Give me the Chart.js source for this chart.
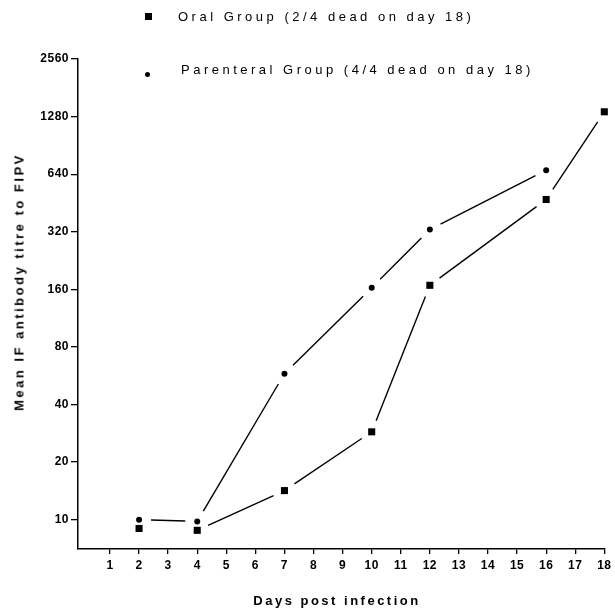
<!DOCTYPE html>
<html>
<head>
<meta charset="utf-8">
<script src="https://cdn.jsdelivr.net/npm/chart.js@4"></script>
<style>
  body { margin: 0; background: #fff; }
  #wrap { position: relative; width: 615px; height: 610px; font-family: "Liberation Sans", Arial, sans-serif; color: #000; }
  canvas { position: absolute; left: 0; top: 0; }
  .leg { position: absolute; font-size: 13px; letter-spacing: 3.5px; white-space: nowrap; transform: translateY(-50%); }
  .mk { position: absolute; background: #000; }
  .titulo { position: absolute; font-size: 13px; font-weight: bold; letter-spacing: 2.5px; white-space: nowrap; }
</style>
</head>
<body>
<div id="wrap">
  <canvas id="grafico" width="615" height="610"></canvas>
  <div class="mk" style="left:145px; top:13px; width:7px; height:7px;"></div>
  <div class="leg" id="leg-oral" style="left:178px; top:16px;"></div>
  <div class="mk" style="left:145px; top:72px; width:5px; height:5px; border-radius:50%;"></div>
  <div class="leg" id="leg-parenteral" style="left:181px; top:69px;"></div>
  <div class="titulo" id="titulo-y" style="left:19px; top:282px; transform: translate(-50%,-50%) rotate(-90deg);"></div>
  <div class="titulo" id="titulo-x" style="left:337px; top:600px; transform: translate(-50%,-50%);"></div>
</div>
<script>
// dados
const diasOral = [2, 4, 7, 10, 12, 16, 18];
const tituloOral = [9.0, 8.8, 14.2, 28.8, 168, 472, 1356];
const diasParenteral = [2, 4, 7, 10, 12, 16];
const tituloParenteral = [10, 9.8, 58, 163, 329, 672];

const ticksX = [1, 2, 3, 4, 5, 6, 7, 8, 9, 10, 11, 12, 13, 14, 15, 16, 17, 18];
const ticksY = [10, 20, 40, 80, 160, 320, 640, 1280, 2560];

const legendaOral = 'Oral Group (2/4 dead on day 18)';
const legendaParenteral = 'Parenteral Group (4/4 dead on day 18)';
const eixoY = 'Mean IF antibody titre to FIPV';
const eixoX = 'Days post infection';

document.getElementById('leg-oral').textContent = legendaOral;
document.getElementById('leg-parenteral').textContent = legendaParenteral;
document.getElementById('titulo-y').textContent = eixoY;
document.getElementById('titulo-x').textContent = eixoX;

// linhas entre os pontos, com um espaço antes de cada marcador
const linhasComFolga = {
    id: 'linhasComFolga',
    afterDatasetsDraw(chart) {
        const ctx = chart.ctx;
        const folga = 12;
        chart.data.datasets.forEach((ds, i) => {
            const pts = chart.getDatasetMeta(i).data;
            ctx.save();
            ctx.strokeStyle = '#000';
            ctx.lineWidth = 1.4;
            for (let k = 0; k < pts.length - 1; k++) {
                if (ds.semLinha && ds.semLinha.includes(k)) continue;
                const a = pts[k], b = pts[k + 1];
                const dx = b.x - a.x, dy = b.y - a.y;
                const d = Math.hypot(dx, dy);
                if (d < folga * 2) continue;
                const ux = dx / d, uy = dy / d;
                ctx.beginPath();
                ctx.moveTo(a.x + ux * folga, a.y + uy * folga);
                ctx.lineTo(b.x - ux * folga, b.y - uy * folga);
                ctx.stroke();
            }
            ctx.restore();
        });
    }
};

const espacoLetras = {
    id: 'espacoLetras',
    beforeDraw(chart) { chart.ctx.letterSpacing = '0.5px'; }
};

const fonteTicks = { family: 'Liberation Sans', size: 12, weight: 'bold' };

new Chart(document.getElementById('grafico').getContext('2d'), {
    type: 'scatter',
    data: {
        datasets: [
            {
                label: legendaOral,
                data: diasOral.map((d, i) => ({ x: d, y: tituloOral[i] })),
                pointStyle: 'rect',
                pointRadius: 5,
                backgroundColor: '#000',
                borderColor: '#000',
                borderWidth: 0,
                clip: false,
                semLinha: [0]
            },
            {
                label: legendaParenteral,
                data: diasParenteral.map((d, i) => ({ x: d, y: tituloParenteral[i] })),
                pointStyle: 'circle',
                pointRadius: 3,
                backgroundColor: '#000',
                borderColor: '#000',
                borderWidth: 0,
                clip: false
            }
        ]
    },
    options: {
        responsive: false,
        animation: false,
        devicePixelRatio: 1,
        layout: { padding: { top: 59, right: 8, bottom: 0, left: 0 } },
        plugins: { legend: { display: false }, tooltip: { enabled: false } },
        scales: {
            x: {
                type: 'linear',
                min: -0.1,
                max: 18,
                afterBuildTicks: (scale) => { scale.ticks = ticksX.map(v => ({ value: v })); },
                afterFit: (scale) => { scale.height = 61; },
                grid: { drawOnChartArea: false, drawTicks: true, tickLength: 5, color: '#000', lineWidth: 1.3 },
                border: { color: '#000', width: 1.5 },
                ticks: { color: '#000', font: fonteTicks, padding: 4, maxRotation: 0, autoSkip: false }
            },
            y: {
                type: 'logarithmic',
                min: 7.03,
                max: 2560,
                afterBuildTicks: (scale) => { scale.ticks = ticksY.map(v => ({ value: v })); },
                afterFit: (scale) => { scale.width = 78; },
                grid: { drawOnChartArea: false, drawTicks: true, tickLength: 7, color: '#000', lineWidth: 1.3 },
                border: { color: '#000', width: 1.5 },
                ticks: { color: '#000', font: fonteTicks, padding: 2, autoSkip: false, callback: (v) => String(v) }
            }
        }
    },
    plugins: [linhasComFolga, espacoLetras]
});
</script>
</body>
</html>
